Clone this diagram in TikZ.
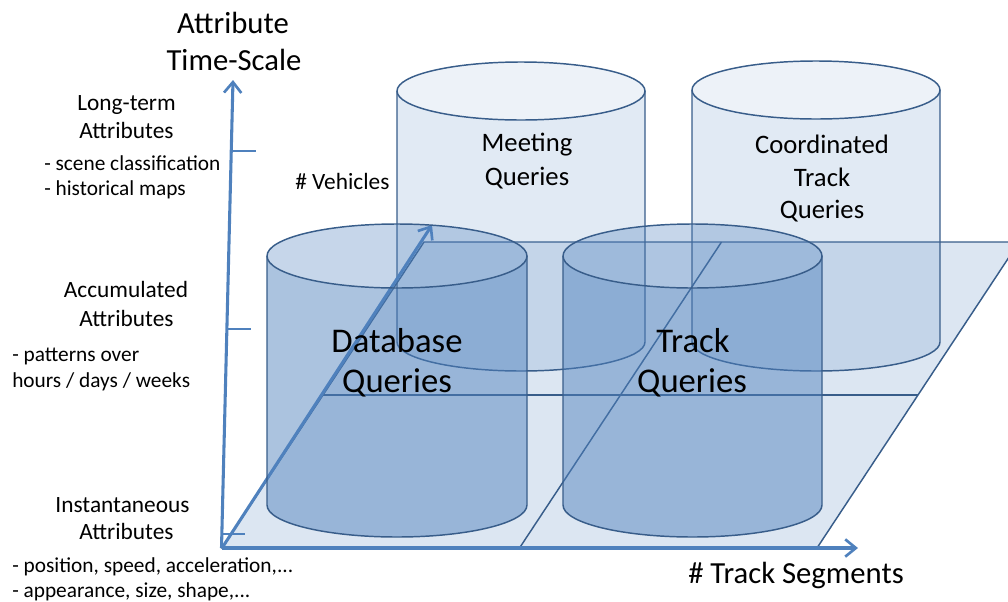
\documentclass[tikz,border=0pt]{standalone}
\usepackage{fontspec}
\setmainfont{Carlito}
\usetikzlibrary{arrows.meta,calc}

\definecolor{accent}{HTML}{4F81BD}
\definecolor{outline}{HTML}{385D8A}

% A translucent can: centre x, x radius, top y, bottom y, y radius,
% body opacity, top-face opacity
\newcommand\drawcan[7]{%
  \fill[accent, fill opacity=#6]
    (#1-#2,#3) -- (#1-#2,#4)
    arc[start angle=180, end angle=0, x radius=#2, y radius=#5]
    -- (#1+#2,#3)
    arc[start angle=0, end angle=180, x radius=#2, y radius=#5] -- cycle;
  \fill[accent, fill opacity=#7] (#1,#3) ellipse[x radius=#2, y radius=#5];
  \draw[edgeline]
    (#1-#2,#3) -- (#1-#2,#4)
    arc[start angle=180, end angle=0, x radius=#2, y radius=#5]
    -- (#1+#2,#3);
  \draw[edgeline] (#1,#3) ellipse[x radius=#2, y radius=#5];
}

\tikzset{
  edgeline/.style={draw=outline, line width=1.1pt},
  axisline/.style={draw=accent, line width=2.3pt,
    -{Straight Barb[length=8pt, width=13pt, line width=2pt]}},
  tickline/.style={draw=accent, line width=1.1pt},
  txt/.style={inner sep=0pt, anchor=base, text=black},
  txtl/.style={inner sep=0pt, anchor=base west, text=black},
  fTitle/.style={font=\fontsize{23}{28}\selectfont},
  fHead/.style={font=\fontsize{17.5}{21}\selectfont},
  fSub/.style={font=\fontsize{16}{19}\selectfont},
  fCan/.style={font=\fontsize{20}{24}\selectfont},
  fBig/.style={font=\fontsize{26}{31}\selectfont},
}

\begin{document}
\begin{tikzpicture}[x=0.75pt, y=-0.75pt]
\useasboundingbox (0,0) rectangle (1008,601);
\clip (0,0) rectangle (1008,601);

% floor plane, split into a 2x2 grid
\coordinate (O)   at (222,548);
\coordinate (p10) at (817,548);
\coordinate (p11) at (1019,242);
\coordinate (p01) at (424,242);
\fill[accent, fill opacity=0.2] (O) -- (p10) -- (p11) -- (p01) -- cycle;
\draw[edgeline] (O) -- (p10) -- (p11) -- (p01) -- cycle;
\draw[edgeline] ($(O)!0.5!(p01)$) -- ($(p10)!0.5!(p11)$);
\draw[edgeline] ($(O)!0.5!(p10)$) -- ($(p01)!0.5!(p11)$);

% back row of cans
\drawcan{521}{124}{91}{342}{29}{0.17}{0.10}
\drawcan{816}{124}{90}{342}{29}{0.17}{0.10}

% axes
\coordinate (ytip) at (233,80);
\coordinate (xtip) at (858,548);
\coordinate (ztip) at (432,225);
\draw[axisline] (221.5,548) -- (ytip);
\draw[axisline] (O) -- (xtip);
\draw[axisline] (O) -- (ztip);
\draw[tickline] (231.3,151) -- (256,151);
\draw[tickline] (227,329) -- (251,329);
\draw[tickline] (222.5,534) -- (245,534);

% front row of cans
\drawcan{397}{130}{256}{505}{32}{0.48}{0.32}
\drawcan{692.5}{129.5}{256}{505}{32}{0.48}{0.32}

% axis titles
\node[txt, fTitle] (t1) at (233,33) {Attribute};
\node[txt, fTitle] (t2) at (234,70.5) {Time-Scale};
\node[txtl, fHead] (veh) at (295,189) {\# Vehicles};
\node[txtl, fTitle] (seg) at (688,583) {\# Track Segments};

% time-scale levels
\node[txt, fHead] (lt1) at (126.5,110) {Long-term};
\node[txt, fHead] (lt2) at (126.5,138) {Attributes};
\node[txtl, fSub] (lt3) at (44,170) {- scene classification};
\node[txtl, fSub] (lt4) at (44,195) {- historical maps};

\node[txt, fHead] (ac1) at (126,297) {Accumulated};
\node[txt, fHead] (ac2) at (126.5,326) {Attributes};
\node[txtl, fSub] (ac3) at (12,361) {- patterns over};
\node[txtl, fSub] (ac4) at (12,387) {hours / days / weeks};

\node[txt, fHead] (in1) at (122.5,512) {Instantaneous};
\node[txt, fHead] (in2) at (126.5,539) {Attributes};
\node[txtl, fSub] (in3) at (12,572) {- position, speed, acceleration,...};
\node[txtl, fSub] (in4) at (12,597) {- appearance, size, shape,...};

% can labels
\node[txt, fCan] (mq1) at (527,151) {Meeting};
\node[txt, fCan] (mq2) at (527,185) {Queries};
\node[txt, fCan] (cq1) at (822,153) {Coordinated};
\node[txt, fCan] (cq2) at (822,186) {Track};
\node[txt, fCan] (cq3) at (822,218) {Queries};
\node[txt, fBig] (dq1) at (397,352) {Database};
\node[txt, fBig] (dq2) at (397,392) {Queries};
\node[txt, fBig] (tq1) at (693,352) {Track};
\node[txt, fBig] (tq2) at (692,392) {Queries};
\end{tikzpicture}
\end{document}
